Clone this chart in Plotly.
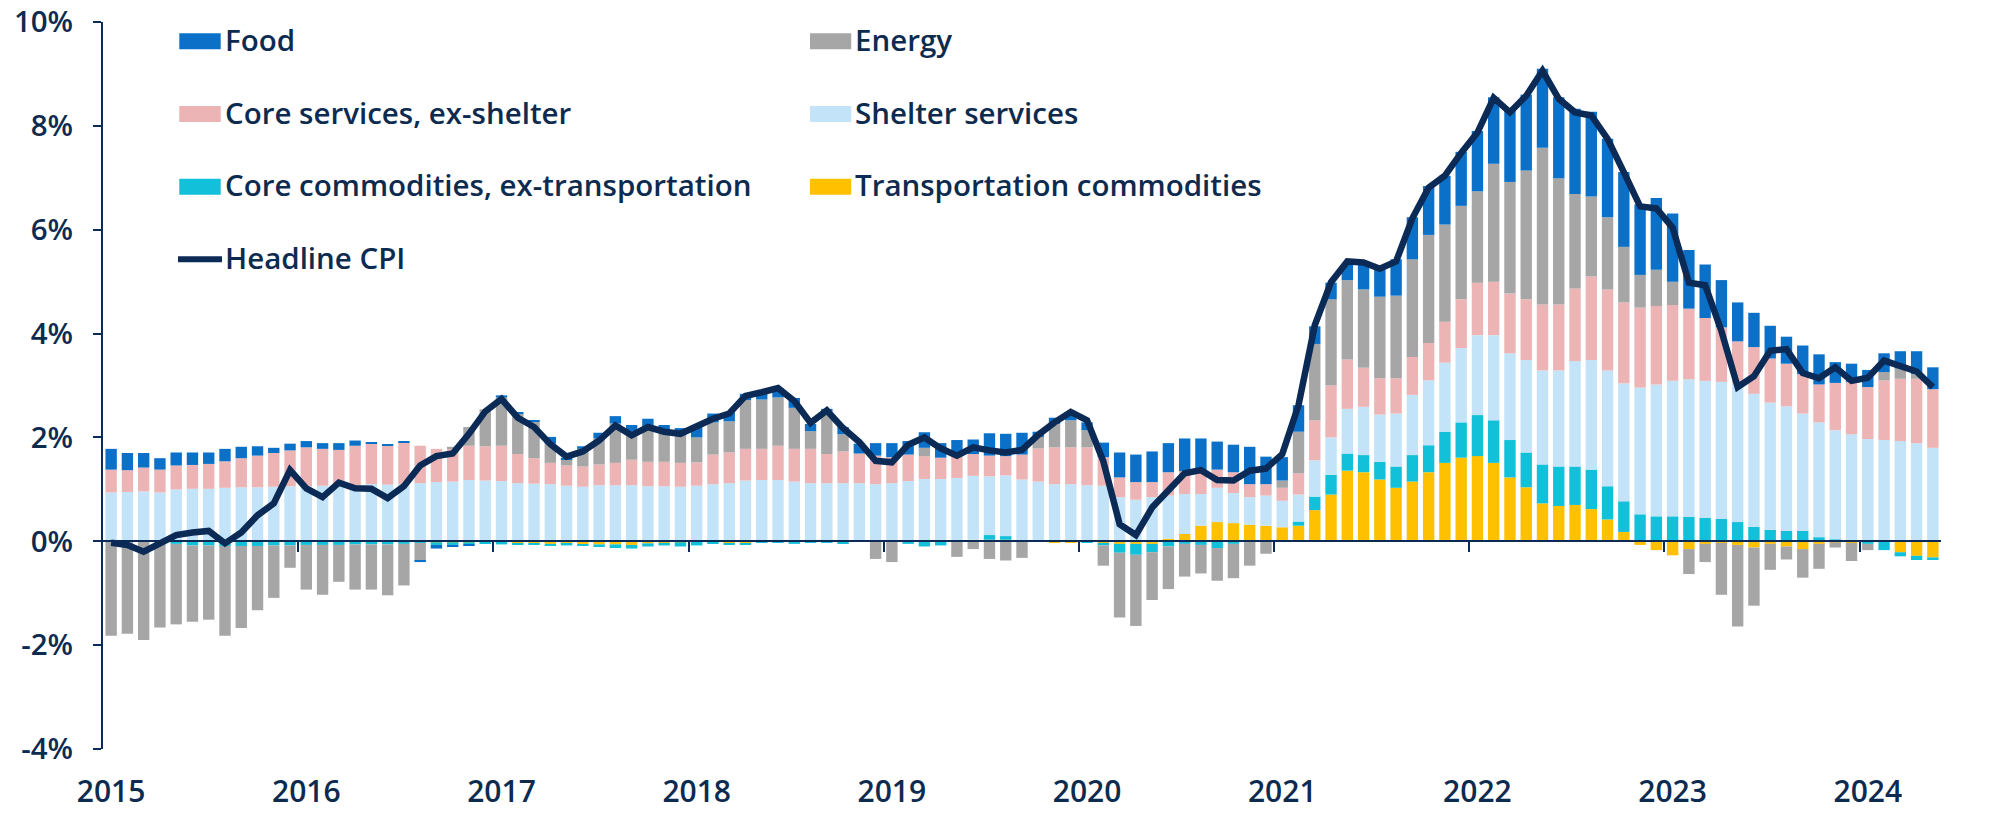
import plotly.graph_objects as go

# Monthly data, Feb 2015 .. Jun 2024 (113 months). Contributions to YoY CPI, pct points.
year_labels = ["2015", "2016", "2017", "2018", "2019", "2020", "2021", "2022", "2023", "2024"]

transport = [
    0, 0, 0, 0, 0, 0, 0, 0, 0, 0, 0,
    0, 0, 0, 0, 0, 0, 0, 0, 0, -0.02, -0.02, -0.02,
    -0.03, -0.03, -0.04, -0.04, -0.05, -0.05, -0.06, -0.06, -0.06, -0.07, -0.04, -0.03,
    -0.02, -0.01, -0.03, -0.05, -0.05, -0.02, -0.01, 0, 0, 0, -0.02, 0.02,
    0, 0, 0.02, 0.02, 0, 0.02, 0.03, 0.03, 0.03, 0.02, 0, -0.02,
    -0.02, 0, -0.03, -0.05, -0.05, -0.05, 0.05, 0.14, 0.30, 0.37, 0.35, 0.32,
    0.30, 0.27, 0.30, 0.60, 0.90, 1.36, 1.33, 1.19, 1.03, 1.15, 1.33, 1.51,
    1.61, 1.64, 1.51, 1.23, 1.04, 0.73, 0.68, 0.70, 0.62, 0.42, 0.18, -0.07,
    -0.17, -0.27, -0.15, -0.05, -0.03, -0.07, -0.12, -0.05, -0.10, -0.15, -0.05, -0.02,
    -0.03, 0, 0, -0.21, -0.28, -0.31,
]
core_commodities = [
    0, 0, 0, 0, -0.05, -0.08, -0.08, -0.09, -0.09, -0.09, -0.08,
    -0.08, -0.07, -0.07, -0.07, -0.06, -0.06, -0.06, -0.05, -0.03, -0.05, -0.05, -0.04,
    -0.02, -0.03, -0.02, -0.02, -0.04, -0.03, -0.03, -0.05, -0.07, -0.07, -0.06, -0.05,
    -0.08, -0.07, -0.02, -0.01, -0.02, -0.01, -0.02, -0.05, -0.03, -0.02, -0.02, -0.01,
    0, 0, -0.05, -0.10, -0.08, 0, 0, 0.09, 0.07, 0, 0, 0,
    0, -0.02, -0.05, -0.17, -0.21, -0.16, -0.10, -0.05, -0.07, -0.13, -0.05, 0,
    0, 0, 0.08, 0.26, 0.38, 0.33, 0.33, 0.34, 0.41, 0.51, 0.52, 0.60,
    0.68, 0.79, 0.82, 0.72, 0.67, 0.75, 0.76, 0.74, 0.76, 0.64, 0.59, 0.52,
    0.48, 0.48, 0.47, 0.45, 0.43, 0.37, 0.28, 0.22, 0.20, 0.20, 0.08, 0.04,
    0, -0.05, -0.17, -0.08, -0.08, -0.05,
]
shelter = [
    0.94, 0.95, 0.96, 0.94, 1.00, 1.01, 1.01, 1.03, 1.04, 1.04, 1.05,
    1.06, 1.06, 1.07, 1.07, 1.08, 1.10, 1.09, 1.10, 1.12, 1.14, 1.15, 1.18,
    1.17, 1.16, 1.12, 1.11, 1.10, 1.07, 1.05, 1.08, 1.08, 1.08, 1.06, 1.06,
    1.05, 1.07, 1.10, 1.12, 1.17, 1.18, 1.18, 1.15, 1.12, 1.12, 1.12, 1.10,
    1.10, 1.12, 1.14, 1.18, 1.20, 1.20, 1.23, 1.13, 1.17, 1.17, 1.15, 1.10,
    1.10, 1.08, 1.07, 0.85, 0.80, 0.85, 0.83, 0.77, 0.61, 0.66, 0.58, 0.53,
    0.58, 0.51, 0.52, 0.70, 0.72, 0.86, 0.93, 0.91, 1.02, 1.16, 1.25, 1.33,
    1.43, 1.54, 1.64, 1.67, 1.78, 1.81, 1.85, 2.03, 2.11, 2.23, 2.27, 2.44,
    2.54, 2.61, 2.65, 2.64, 2.64, 2.67, 2.56, 2.45, 2.40, 2.26, 2.21, 2.10,
    2.06, 1.97, 1.95, 1.93, 1.89, 1.80,
]
core_services = [
    0.44, 0.42, 0.46, 0.44, 0.46, 0.46, 0.48, 0.51, 0.56, 0.61, 0.65,
    0.69, 0.75, 0.71, 0.69, 0.76, 0.78, 0.75, 0.81, 0.72, 0.64, 0.64, 0.66,
    0.66, 0.68, 0.56, 0.49, 0.41, 0.39, 0.39, 0.40, 0.43, 0.49, 0.47, 0.47,
    0.46, 0.45, 0.57, 0.59, 0.61, 0.60, 0.66, 0.63, 0.66, 0.56, 0.61, 0.57,
    0.55, 0.50, 0.51, 0.44, 0.41, 0.42, 0.42, 0.40, 0.37, 0.48, 0.64, 0.71,
    0.71, 0.73, 0.55, 0.38, 0.34, 0.29, 0.45, 0.44, 0.46, 0.35, 0.40, 0.25,
    0.22, 0.25, 0.41, 0.77, 1.00, 0.95, 0.75, 0.70, 0.68, 0.73, 0.72, 0.79,
    0.94, 1.01, 1.03, 1.15, 1.17, 1.27, 1.27, 1.40, 1.61, 1.56, 1.56, 1.54,
    1.51, 1.46, 1.36, 1.21, 1.05, 0.81, 0.90, 0.85, 0.82, 0.76, 0.73, 0.91,
    1.01, 1.00, 1.15, 1.20, 1.24, 1.13,
]
energy = [
    -1.82, -1.78, -1.90, -1.66, -1.55, -1.47, -1.43, -1.73, -1.58, -1.24, -1.01,
    -0.43, -0.86, -0.96, -0.71, -0.87, -0.87, -0.98, -0.80, -0.34, 0, 0.03, 0.36,
    0.71, 0.93, 0.79, 0.70, 0.37, 0.12, 0.34, 0.50, 0.76, 0.54, 0.66, 0.61,
    0.53, 0.48, 0.62, 0.60, 0.94, 0.95, 0.93, 0.79, 0.34, 0.81, 0.33, 0.0,
    -0.34, -0.40, 0.0, 0.16, 0.0, -0.30, -0.15, -0.34, -0.37, -0.32, 0.22, 0.45,
    0.52, 0.33, -0.39, -1.25, -1.37, -0.92, -0.82, -0.63, -0.55, -0.63, -0.66, -0.47,
    -0.24, 0.14, 0.80, 1.47, 1.66, 1.53, 1.51, 1.57, 1.59, 1.88, 2.08, 1.87,
    1.80, 1.76, 2.27, 2.15, 2.48, 3.02, 2.43, 1.82, 1.54, 1.39, 1.07, 0.63,
    0.70, 0.45, -0.48, -0.35, -1.00, -1.57, -1.12, -0.50, -0.25, -0.55, -0.48, -0.10,
    -0.35, -0.12, 0.16, 0.20, 0.09, 0.0,
]
food = [
    0.40, 0.33, 0.28, 0.22, 0.25, 0.24, 0.22, 0.24, 0.22, 0.18, 0.10,
    0.13, 0.12, 0.11, 0.13, 0.10, 0.03, 0.02, 0.01, -0.03, -0.07, -0.04, -0.02,
    0.0, 0.04, 0.02, 0.02, 0.13, 0.03, 0.05, 0.11, 0.14, 0.13, 0.17, 0.10,
    0.14, 0.22, 0.17, 0.18, 0.12, 0.13, 0.18, 0.19, 0.14, 0.06, 0.14, 0.19,
    0.24, 0.27, 0.26, 0.30, 0.28, 0.31, 0.28, 0.43, 0.43, 0.42, 0.10, 0.12,
    0.14, 0.15, 0.28, 0.48, 0.53, 0.59, 0.56, 0.63, 0.61, 0.54, 0.53, 0.72,
    0.53, 0.45, 0.51, 0.34, 0.32, 0.30, 0.48, 0.52, 0.70, 0.81, 0.94, 0.94,
    1.04, 1.16, 1.28, 1.38, 1.46, 1.52, 1.56, 1.64, 1.63, 1.51, 1.44, 1.36,
    1.38, 1.31, 1.13, 1.03, 0.91, 0.75, 0.66, 0.63, 0.52, 0.55, 0.58, 0.40,
    0.35, 0.33, 0.36, 0.33, 0.44, 0.42,
]
headline = [
    -0.03, -0.07, -0.20, -0.04, 0.12, 0.17, 0.20, -0.04, 0.17, 0.50, 0.73,
    1.37, 1.02, 0.85, 1.13, 1.02, 1.01, 0.83, 1.06, 1.46, 1.64, 1.69, 2.07,
    2.50, 2.74, 2.38, 2.20, 1.87, 1.63, 1.73, 1.94, 2.23, 2.04, 2.20, 2.11,
    2.07, 2.21, 2.36, 2.46, 2.80, 2.87, 2.95, 2.70, 2.28, 2.52, 2.18, 1.91,
    1.55, 1.52, 1.86, 2.00, 1.79, 1.65, 1.81, 1.75, 1.71, 1.76, 2.05, 2.29,
    2.49, 2.33, 1.54, 0.33, 0.12, 0.65, 0.99, 1.31, 1.37, 1.18, 1.17, 1.36,
    1.40, 1.68, 2.62, 4.16, 4.99, 5.39, 5.37, 5.25, 5.39, 6.22, 6.81, 7.04,
    7.48, 7.87, 8.54, 8.26, 8.58, 9.06, 8.52, 8.26, 8.20, 7.75, 7.11, 6.45,
    6.41, 6.04, 4.98, 4.93, 4.05, 2.97, 3.18, 3.67, 3.70, 3.24, 3.14, 3.35,
    3.09, 3.15, 3.48, 3.36, 3.27, 2.97,
]

NAVY = "#0b2a55"
TEXT = "#0d2a4f"
FONT = "Open Sans"
colors = {
    "Food": "#0a70c8",
    "Energy": "#a6a6a6",
    "Core services, ex-shelter": "#ecb4b4",
    "Shelter services": "#c3e3f9",
    "Core commodities, ex-transportation": "#12c1d9",
    "Transportation commodities": "#ffc000",
}

n = len(headline)
x = list(range(n))

fig = go.Figure()
stack = [
    ("Transportation commodities", transport),
    ("Core commodities, ex-transportation", core_commodities),
    ("Shelter services", shelter),
    ("Core services, ex-shelter", core_services),
    ("Energy", energy),
    ("Food", food),
]
for name, vals in stack:
    fig.add_trace(go.Bar(x=x, y=vals, name=name, marker=dict(color=colors[name], line=dict(width=0)),
                         showlegend=False))
fig.add_trace(go.Scatter(x=x, y=headline, name="Headline CPI", mode="lines",
                         line=dict(color=NAVY, width=6.5), showlegend=False))
# invisible trace to hold the zero-line axis
fig.add_trace(go.Scatter(x=[0], y=[0], xaxis="x2", mode="markers", marker=dict(opacity=0),
                         showlegend=False, hoverinfo="skip"))

W, H = 2000, 815
ML, MR, MT, MB = 103, 59, 22, 66
PW, PH = W - ML - MR, H - MT - MB


def px(xp):
    return (xp - ML) / PW


def py(yp):
    return (H - MB - yp) / PH


ymin, ymax = -4, 10
fig.update_layout(
    width=W, height=H,
    margin=dict(l=ML, r=MR, t=MT, b=MB, autoexpand=False),
    barmode="relative", bargap=0.3,
    plot_bgcolor="white", paper_bgcolor="white",
    font=dict(family=FONT, size=29, color=TEXT, weight=600),
    xaxis=dict(range=[-0.5, n - 0.5], tickmode="array",
               tickvals=[12 * i for i in range(len(year_labels))], ticktext=year_labels,
               ticks="", showline=False, showgrid=False, zeroline=False, automargin=False,
               ticklabelstandoff=22, tickfont=dict(size=30)),
    xaxis2=dict(range=[-0.5, n - 0.5], overlaying="x", anchor="free",
                position=(0 - ymin) / (ymax - ymin), side="bottom", automargin=False,
                tickmode="array", tickvals=[12 * i - 0.5 for i in range(1, len(year_labels))],
                showticklabels=False, ticks="outside", ticklen=10, tickwidth=2, tickcolor=NAVY,
                showline=True, linecolor=NAVY, linewidth=2, showgrid=False, zeroline=False,
                layer="above traces"),
    yaxis=dict(range=[ymin, ymax], tickmode="array", tickvals=list(range(ymin, ymax + 1, 2)),
               ticktext=[f"{v}%" for v in range(ymin, ymax + 1, 2)], automargin=False,
               showline=True, linecolor=NAVY, linewidth=2, ticks="outside", ticklen=8,
               tickwidth=2, tickcolor=NAVY, showgrid=False, zeroline=False,
               ticklabelstandoff=14, tickfont=dict(size=29.5)),
)

# Manual legend
legend_rows = [41.3, 114.0, 186.7, 259.3]
col_swatch = [(179.3, 220.7), (810, 851.2)]
col_text = [223, 853]
legend_items = [
    ("Food", 0, 0), ("Energy", 1, 0),
    ("Core services, ex-shelter", 0, 1), ("Shelter services", 1, 1),
    ("Core commodities, ex-transportation", 0, 2), ("Transportation commodities", 1, 2),
]
shapes = []
annotations = []
LEG_FONT = dict(family=FONT, size=29.5, color=TEXT, weight=600)
for name, c, r in legend_items:
    yc = legend_rows[r]
    x0, x1 = col_swatch[c]
    shapes.append(dict(type="rect", xref="paper", yref="paper", x0=px(x0), x1=px(x1),
                       y0=py(yc + 8), y1=py(yc - 8), fillcolor=colors[name], line=dict(width=0)))
    annotations.append(dict(text=name, xref="paper", yref="paper", x=px(col_text[c]), y=py(yc - 2),
                            xanchor="left", yanchor="middle", showarrow=False, font=LEG_FONT))
yc = legend_rows[3]
shapes.append(dict(type="line", xref="paper", yref="paper", x0=px(178), x1=px(222),
                   y0=py(yc), y1=py(yc), line=dict(color=NAVY, width=6)))
annotations.append(dict(text="Headline CPI", xref="paper", yref="paper", x=px(col_text[0]), y=py(yc - 2),
                        xanchor="left", yanchor="middle", showarrow=False, font=LEG_FONT))
fig.update_layout(shapes=shapes, annotations=annotations)

fig.write_html("out.html")
